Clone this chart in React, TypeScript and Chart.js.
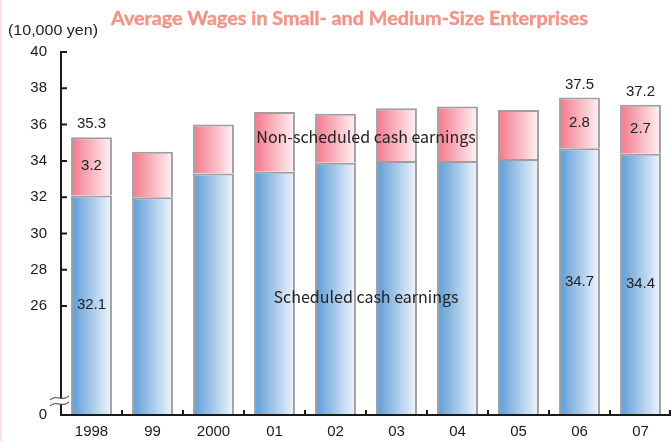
import React, { useEffect, useRef } from 'react';
import { Chart, registerables } from 'chart.js';

Chart.register(...registerables);

// ---- data ----
const years = ['1998', '99', '2000', '01', '02', '03', '04', '05', '06', '07'];
const scheduled = [32.1, 32.0, 33.3, 33.4, 33.9, 34.0, 34.0, 34.1, 34.7, 34.4];
const nonScheduled = [3.2, 2.5, 2.7, 3.3, 2.7, 2.9, 3.0, 2.7, 2.8, 2.7];
const totals = [35.3, 34.5, 36.0, 36.7, 36.6, 36.9, 37.0, 36.8, 37.5, 37.2];
const labeledYears = ['1998', '06', '07'];
const yTickValues = [0, 26, 28, 30, 32, 34, 36, 38, 40];
const seriesNames = ['Scheduled cash earnings', 'Non-scheduled cash earnings'];
const titleText = 'Average Wages in Small- and Medium-Size Enterprises';
const unitText = '(10,000 yen)';

// axis break: value 0 is drawn where 20 would be
const BREAK_AXIS_VALUE = 20;
const toAxis = (v: number) => (v === 0 ? BREAK_AXIS_VALUE : v);
const BAR_PCT = 0.67;

function barGradient(c: any, from: string, to: string) {
  const chart = c.chart;
  const xs = chart.scales && chart.scales.x;
  if (!xs || !chart.chartArea) return from;
  const cx = xs.getPixelForValue(c.dataIndex);
  const w = (xs.width / years.length) * BAR_PCT;
  const g = chart.ctx.createLinearGradient(cx - w / 2, 0, cx + w / 2, 0);
  g.addColorStop(0, from);
  g.addColorStop(1, to);
  return g;
}

function fitText(ctx: any, text: string, x: number, y: number, width: number, stroke: boolean) {
  const tw = ctx.measureText(text).width;
  ctx.save();
  ctx.translate(x, y);
  ctx.scale(width / tw, 1);
  ctx.fillText(text, 0, 0);
  if (stroke) ctx.strokeText(text, 0, 0);
  ctx.restore();
}

const overlayPlugin = {
  id: 'overlay',
  afterDatasetsDraw(chart: any) {
    const { ctx, chartArea } = chart;
    const x = chart.scales.x;
    const y = chart.scales.y;
    ctx.save();
    ctx.font = '15px "Liberation Sans", Arial, sans-serif';
    ctx.fillStyle = '#222';
    ctx.textAlign = 'center';
    ctx.textBaseline = 'middle';
    years.forEach((yr, i) => {
      if (!labeledYears.includes(yr)) return;
      const cx = x.getPixelForValue(i);
      const yS = y.getPixelForValue(scheduled[i]);
      const yT = y.getPixelForValue(scheduled[i] + nonScheduled[i]);
      ctx.fillText(totals[i].toFixed(1), cx, yT - 13);
      ctx.fillText(nonScheduled[i].toFixed(1), cx, (yS + yT) / 2);
      ctx.fillText(scheduled[i].toFixed(1), cx, (yS + chartArea.bottom) / 2);
    });
    ctx.font = '16px "Noto Sans CJK JP", "Noto Sans", sans-serif';
    ctx.fillStyle = '#222';
    const mid = (chartArea.left + chartArea.right) / 2;
    ctx.fillText(seriesNames[1], mid, y.getPixelForValue(35.3));
    ctx.fillText(seriesNames[0], mid, y.getPixelForValue(26.5));
    ctx.restore();
  },
  afterDraw(chart: any) {
    const { ctx, chartArea } = chart;
    const x = chart.scales.x;
    const y = chart.scales.y;
    const L = chartArea.left;
    const R = chartArea.right;
    const T = y.getPixelForValue(40);
    const B = chartArea.bottom;
    ctx.save();
    // left pink stripe
    ctx.fillStyle = '#fde2e2';
    ctx.fillRect(0, 0, 2, chart.height);
    // axes
    ctx.strokeStyle = '#1a1a1a';
    ctx.lineWidth = 2;
    ctx.beginPath();
    ctx.moveTo(L, T - 1);
    ctx.lineTo(L, B + 1);
    yTickValues.forEach((v) => {
      if (v === 0) return;
      const py = y.getPixelForValue(toAxis(v));
      ctx.moveTo(L, py);
      ctx.lineTo(L + 6, py);
    });
    ctx.moveTo(L - 1, B);
    ctx.lineTo(R, B);
    for (let i = 0; i < years.length; i++) {
      const px = Math.min(x.getPixelForValue(i + 0.5), R - 1);
      ctx.moveTo(px, B);
      ctx.lineTo(px, B - 5);
    }
    ctx.stroke();
    // break symbol
    const yc = B - 17;
    ctx.fillStyle = '#fff';
    ctx.beginPath();
    ctx.moveTo(L - 11, yc + 2);
    ctx.bezierCurveTo(L - 5, yc - 4, L + 1, yc + 4, L + 8, yc - 2);
    ctx.lineTo(L + 8, yc + 4);
    ctx.bezierCurveTo(L + 1, yc + 10, L - 5, yc + 2, L - 11, yc + 8);
    ctx.closePath();
    ctx.fill();
    ctx.strokeStyle = '#333';
    ctx.lineWidth = 1;
    ctx.beginPath();
    ctx.moveTo(L - 11, yc + 2);
    ctx.bezierCurveTo(L - 5, yc - 4, L + 1, yc + 4, L + 8, yc - 2);
    ctx.moveTo(L - 11, yc + 8);
    ctx.bezierCurveTo(L - 5, yc + 2, L + 1, yc + 10, L + 8, yc + 4);
    ctx.stroke();
    // title
    ctx.font = 'bold 18px Lato, "Open Sans", sans-serif';
    ctx.fillStyle = '#f39488';
    ctx.strokeStyle = '#f39488';
    ctx.lineWidth = 0.4;
    ctx.lineJoin = 'round';
    ctx.textAlign = 'left';
    ctx.textBaseline = 'alphabetic';
    fitText(ctx, titleText, 111, 25, 477, true);
    // unit
    ctx.font = '15px "Liberation Sans", Arial, sans-serif';
    ctx.fillStyle = '#222';
    fitText(ctx, unitText, 8, 35, 90, false);
    ctx.restore();
  },
};

export default function App() {
  const ref = useRef<HTMLCanvasElement | null>(null);
  useEffect(() => {
    if (!ref.current) return;
    const chart = new Chart(ref.current, {
      type: 'bar',
      data: {
        labels: years,
        datasets: [
          {
            label: seriesNames[0],
            data: scheduled,
            backgroundColor: (c: any) => barGradient(c, '#5b9bd6', '#f0f6fd'),
            borderColor: '#9e9e9e',
            borderWidth: 2,
            barPercentage: BAR_PCT,
            categoryPercentage: 1,
            clip: { left: false, right: false, top: false, bottom: 0 } as any,
          },
          {
            label: seriesNames[1],
            data: nonScheduled,
            backgroundColor: (c: any) => barGradient(c, '#f3778a', '#fff3f5'),
            borderColor: '#9e9e9e',
            borderWidth: 2,
            barPercentage: BAR_PCT,
            categoryPercentage: 1,
            clip: { left: false, right: false, top: false, bottom: 0 } as any,
          },
        ],
      },
      options: {
        responsive: false,
        animation: false,
        devicePixelRatio: 1,
        layout: { padding: { top: 52, right: 1, left: 0, bottom: 0 } },
        plugins: {
          legend: { display: false },
          tooltip: { enabled: false },
          title: { display: false },
        },
        scales: {
          x: {
            stacked: true,
            grid: { display: false, drawTicks: false },
            border: { display: false },
            ticks: {
              color: '#1a1a1a',
              font: { family: '"Liberation Sans", Arial, sans-serif', size: 15 },
              padding: 8,
              maxRotation: 0,
              autoSkip: false,
            },
            afterFit: (s: any) => {
              s.height = 26;
            },
          },
          y: {
            stacked: true,
            min: BREAK_AXIS_VALUE,
            max: 40,
            grid: { display: false, drawTicks: false },
            border: { display: false },
            afterBuildTicks: (s: any) => {
              s.ticks = yTickValues.map((v) => ({ value: toAxis(v) }));
            },
            ticks: {
              color: '#1a1a1a',
              font: { family: '"Liberation Sans", Arial, sans-serif', size: 15 },
              padding: 14,
              autoSkip: false,
              callback: (value: any) => {
                const found = yTickValues.find((v) => toAxis(v) === value);
                return found === undefined ? '' : String(found);
              },
            },
            afterFit: (s: any) => {
              s.width = 61;
            },
          },
        },
      },
      plugins: [overlayPlugin],
    });
    return () => chart.destroy();
  }, []);
  return (
    <div style={{ position: 'absolute', left: 0, top: 0, width: 672, height: 441, background: '#fff' }}>
      <canvas ref={ref} width={672} height={441} style={{ display: 'block' }} />
    </div>
  );
}
